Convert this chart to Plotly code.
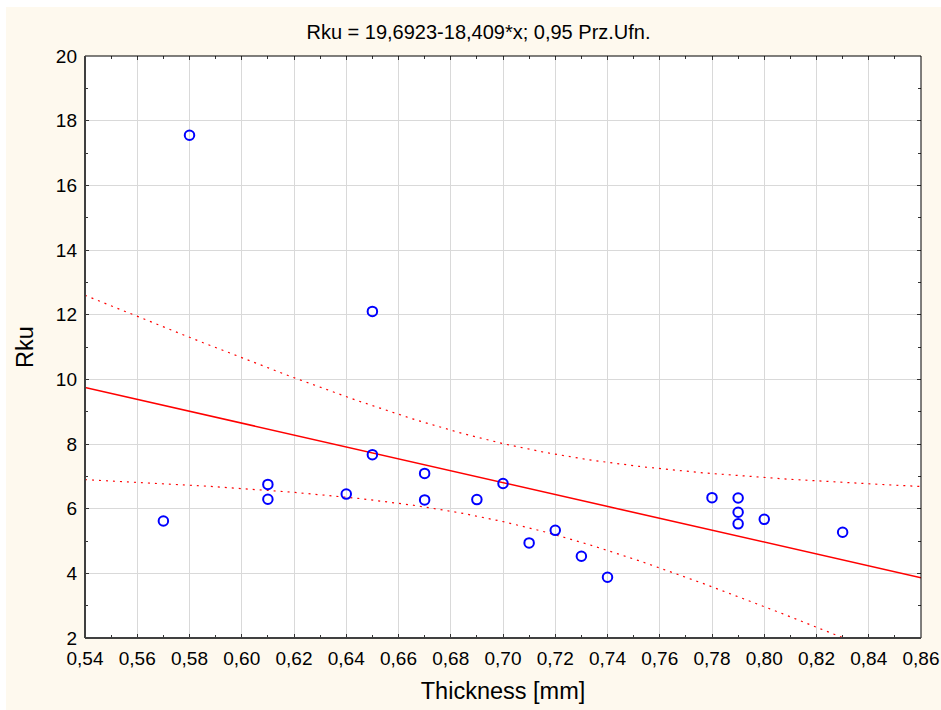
import numpy as np
import plotly.graph_objects as go

# data
thickness = [0.57, 0.58, 0.61, 0.61, 0.64, 0.65, 0.65, 0.67, 0.67, 0.69, 0.70,
             0.71, 0.72, 0.73, 0.74, 0.78, 0.79, 0.79, 0.79, 0.80, 0.83]
rku = [5.62, 17.55, 6.75, 6.29, 6.45, 12.10, 7.67, 7.09, 6.27, 6.28, 6.78,
       4.94, 5.33, 4.53, 3.88, 6.34, 6.33, 5.89, 5.53, 5.67, 5.27]
t_crit = 2.093  # t(0.975, df = n - 2)
title_text = "Rku = 19,6923-18,409*x; 0,95 Prz.Ufn."
x_title = "Thickness [mm]"
y_title = "Rku"
x_range = [0.54, 0.86]
y_range = [2, 20]

x = np.array(thickness)
y = np.array(rku)
n = len(x)
slope, intercept = np.polyfit(x, y, 1)
resid = y - (intercept + slope * x)
s = np.sqrt(np.sum(resid ** 2) / (n - 2))
xm = x.mean()
sxx = np.sum((x - xm) ** 2)
xs = np.linspace(x_range[0], x_range[1], 200)
fit = intercept + slope * xs
half = t_crit * s * np.sqrt(1 / n + (xs - xm) ** 2 / sxx)

FONT = "Liberation Sans, Arial, sans-serif"
RED = "#FF0000"
CREAM = "#FEF9EE"
W, H = 941, 710
L, R, T, B = 85, 20, 56, 72
PW, PH = W - L - R, H - T - B

fig = go.Figure()
fig.add_trace(go.Scatter(x=xs, y=fit, mode="lines",
                         line=dict(color=RED, width=1.5), showlegend=False, hoverinfo="skip"))
fig.add_trace(go.Scatter(x=xs, y=fit + half, mode="lines",
                         line=dict(color=RED, width=1.2, dash="2px,5px"), showlegend=False, hoverinfo="skip"))
fig.add_trace(go.Scatter(x=xs, y=fit - half, mode="lines",
                         line=dict(color=RED, width=1.2, dash="2px,5px"), showlegend=False, hoverinfo="skip"))
fig.add_trace(go.Scatter(x=thickness, y=rku, mode="markers",
                         marker=dict(symbol="circle-open", size=9.5, color="#0000FF",
                                     line=dict(width=2, color="#0000FF")),
                         showlegend=False))

axis_common = dict(
    showline=False, mirror="ticks", ticks="inside", ticklen=4, tickwidth=1,
    tickcolor="#333333", showgrid=True, gridcolor="#D9D9D9", gridwidth=1,
    zeroline=False, automargin=False, ticklabelstandoff=7,
    tickfont=dict(family=FONT, size=19, color="#000000"),
)

fig.update_layout(
    width=W, height=H,
    margin=dict(l=L, r=R, t=T, b=B, autoexpand=False),
    paper_bgcolor=CREAM, plot_bgcolor="#FFFFFF",
    separators=", ",
    title=dict(text=title_text, x=478.5 / W, xanchor="center", y=1 - 32 / H, yanchor="middle",
               font=dict(family=FONT, size=20, color="#000000")),
    xaxis=dict(range=x_range, dtick=0.02, tick0=0.54, tickformat=".2f",
               title=dict(text=x_title, font=dict(family=FONT, size=23.5, color="#000000"), standoff=14),
               minor=dict(dtick=0.01, ticks="inside", ticklen=3, tickcolor="#333333", showgrid=False),
               **axis_common),
    yaxis=dict(range=y_range, dtick=2, tick0=0,
               title=dict(text=y_title, font=dict(family=FONT, size=23.5, color="#000000"), standoff=15),
               minor=dict(dtick=1, ticks="inside", ticklen=3, tickcolor="#333333", showgrid=False),
               **axis_common),
    shapes=[
        # white page border along the top and left edges
        dict(type="rect", xref="paper", yref="paper", x0=-0.2, x1=1.2,
             y0=(H - B - 7) / PH, y1=1.3, fillcolor="#FFFFFF", line=dict(width=0), layer="below"),
        dict(type="rect", xref="paper", yref="paper", x0=-0.2, x1=(6 - L) / PW,
             y0=-0.3, y1=1.3, fillcolor="#FFFFFF", line=dict(width=0), layer="below"),
        dict(type="line", xref="paper", yref="paper", x0=0, x1=1, y0=1, y1=1,
             line=dict(color="#000000", width=1), layer="above"),
        dict(type="line", xref="paper", yref="paper", x0=1, x1=1, y0=0, y1=1,
             line=dict(color="#000000", width=1), layer="above"),
        dict(type="line", xref="paper", yref="paper", x0=0, x1=0, y0=0, y1=1,
             line=dict(color="#404040", width=2), layer="above"),
        dict(type="line", xref="paper", yref="paper", x0=0, x1=1, y0=0, y1=0,
             line=dict(color="#404040", width=2), layer="above"),
    ],
)

fig.write_html("out.html",
               post_script="document.body.style.margin='0';document.body.style.overflow='hidden';",
               config={"displayModeBar": False})
